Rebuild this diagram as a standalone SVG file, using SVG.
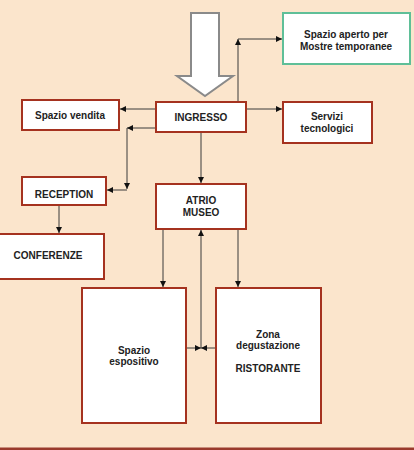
<svg xmlns="http://www.w3.org/2000/svg" width="414" height="450" viewBox="0 0 414 450">
  <style>
    .box { fill: #ffffff; stroke: #a5321f; stroke-width: 2; }
    .box-alt { fill: #ffffff; stroke: #5fbf98; stroke-width: 2; }
    .lbl { font-family: "Liberation Sans", Arial, sans-serif; font-weight: bold; font-size: 10px; fill: #222222; text-anchor: middle; }
    .wire { fill: none; stroke: #3a3a3a; stroke-width: 1; }
  </style>
  <defs>
    <marker id="tip" markerWidth="6" markerHeight="6" refX="6" refY="3" orient="auto" markerUnits="userSpaceOnUse">
      <path d="M0,0 L6,3 L0,6 z" fill="#111111"/>
    </marker>
  </defs>

  <!-- background -->
  <rect x="0" y="0" width="414" height="450" fill="#fbe5cc"/>
  <rect x="0" y="447.5" width="414" height="2.5" fill="#9a3a2c"/>

  <!-- entrance arrow -->
  <polygon points="191,13 219,13 219,76 233,76 205,96 177,76 191,76" fill="#ffffff" stroke="#8a8a8a" stroke-width="2" stroke-linejoin="miter"/>

  <!-- connectors -->
  <g id="connectors" class="wire">
    <line x1="238" y1="102" x2="238" y2="39" marker-end="url(#tip)"/>
    <line x1="238" y1="39" x2="282" y2="39" marker-end="url(#tip)"/>
    <line x1="156" y1="109" x2="120" y2="109" marker-end="url(#tip)"/>
    <line x1="246" y1="109" x2="282" y2="109" marker-end="url(#tip)"/>
    <line x1="156" y1="128" x2="127" y2="128" marker-end="url(#tip)"/>
    <line x1="127" y1="128" x2="127" y2="189" marker-end="url(#tip)"/>
    <line x1="127" y1="190" x2="107" y2="190" marker-end="url(#tip)"/>
    <line x1="201" y1="132" x2="201" y2="183" marker-end="url(#tip)"/>
    <line x1="59" y1="205" x2="59" y2="233" marker-end="url(#tip)"/>
    <line x1="163" y1="229" x2="163" y2="287" marker-end="url(#tip)"/>
    <line x1="238" y1="229" x2="238" y2="287" marker-end="url(#tip)"/>
    <line x1="201" y1="348" x2="201" y2="230" marker-end="url(#tip)"/>
    <line x1="186" y1="348" x2="201" y2="348" marker-end="url(#tip)"/>
    <line x1="216" y1="348" x2="201" y2="348" marker-end="url(#tip)"/>
  </g>

  <g id="spazio-aperto">
    <rect class="box-alt" x="283" y="13" width="127" height="51"/>
    <text class="lbl" x="346" y="38">Spazio aperto per</text>
    <text class="lbl" x="346" y="50">Mostre temporanee</text>
  </g>

  <g id="ingresso">
    <rect class="box" x="156" y="102" width="90" height="30"/>
    <text class="lbl" x="201" y="121">INGRESSO</text>
  </g>

  <g id="spazio-vendita">
    <rect class="box" x="22" y="100" width="97" height="30"/>
    <text class="lbl" x="70" y="119">Spazio vendita</text>
  </g>

  <g id="servizi">
    <rect class="box" x="283" y="102" width="89" height="41"/>
    <text class="lbl" x="327" y="120">Servizi</text>
    <text class="lbl" x="327" y="132">tecnologici</text>
  </g>

  <g id="reception">
    <rect class="box" x="22" y="177" width="84" height="28"/>
    <text class="lbl" x="64" y="198">RECEPTION</text>
  </g>

  <g id="conferenze">
    <rect class="box" x="-1" y="234" width="105" height="45"/>
    <text class="lbl" x="48" y="259">CONFERENZE</text>
  </g>

  <g id="atrio">
    <rect class="box" x="156" y="184" width="90" height="45"/>
    <text class="lbl" x="201" y="204">ATRIO</text>
    <text class="lbl" x="201" y="216">MUSEO</text>
  </g>

  <g id="spazio-espositivo">
    <rect class="box" x="82" y="288" width="104" height="135"/>
    <text class="lbl" x="134" y="354">Spazio</text>
    <text class="lbl" x="134" y="365">espositivo</text>
  </g>

  <g id="ristorante">
    <rect class="box" x="216" y="288" width="105" height="135"/>
    <text class="lbl" x="268" y="338">Zona</text>
    <text class="lbl" x="268" y="349">degustazione</text>
    <text class="lbl" x="268" y="372">RISTORANTE</text>
  </g>
</svg>
